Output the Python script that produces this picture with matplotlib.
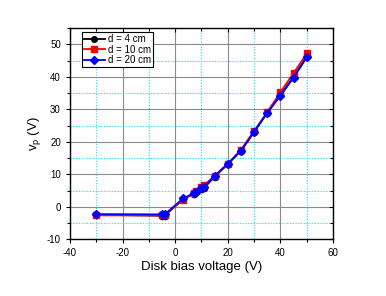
import matplotlib
matplotlib.use("Agg")
import matplotlib.pyplot as plt
from matplotlib.ticker import MultipleLocator

plt.rcParams['font.family'] = ['Liberation Sans', 'DejaVu Sans']
plt.rcParams['axes.unicode_minus'] = False

bias = [-30, -5, -4, 3, 7, 8, 10, 11, 15, 20, 25, 30, 35, 40, 45, 50]
vp_4cm = [-2.4, -2.7, -2.7, 2.4, 4.0, 4.5, 5.5, 5.9, 9.3, 13.2, 17.3, 23.2, 29.0, 34.5, 40.0, 46.3]
vp_10cm = [-2.6, -2.6, -2.4, 2.2, 4.3, 4.8, 6.0, 6.7, 9.6, 13.2, 17.6, 23.4, 29.2, 35.3, 41.2, 47.2]
vp_20cm = [-2.2, -2.3, -2.3, 2.6, 4.2, 4.7, 5.7, 6.2, 9.5, 13.3, 17.3, 23.0, 29.0, 34.2, 39.8, 46.0]
labels = ['d = 4 cm', 'd = 10 cm', 'd = 20 cm']

fig = plt.figure(figsize=(3.86, 2.96), dpi=100)
ax = fig.add_axes([0.181, 0.191, 0.682, 0.714])

ax.plot(bias, vp_4cm, color='black', marker='o', ms=4.5, lw=1.3, label=labels[0])
ax.plot(bias, vp_10cm, color='red', marker='s', ms=4.5, lw=1.3, label=labels[1])
ax.plot(bias, vp_20cm, color='blue', marker='D', ms=4.0, lw=1.3, label=labels[2])

ax.set_xlim(-40, 60)
ax.set_ylim(-10, 55)
ax.xaxis.set_major_locator(MultipleLocator(20))
ax.xaxis.set_minor_locator(MultipleLocator(10))
ax.yaxis.set_major_locator(MultipleLocator(10))
ax.yaxis.set_minor_locator(MultipleLocator(5))

ax.grid(which='major', color='#8a8a8a', lw=0.8, ls='-')
ax.grid(which='minor', color='#00e8ff', lw=0.8, ls=(0, (1, 1.5)))
ax.set_axisbelow(True)

ax.tick_params(which='both', direction='out', labelsize=7, width=0.8, colors='black')
ax.tick_params(which='major', length=3)
ax.tick_params(which='minor', length=2)
ax.tick_params(which='both', top=True, right=True)
for t in ax.yaxis.get_major_ticks() + ax.yaxis.get_minor_ticks():
    t.tick2line.set_marker(matplotlib.lines.TICKLEFT)
for t in ax.xaxis.get_major_ticks() + ax.xaxis.get_minor_ticks():
    t.tick2line.set_marker(matplotlib.lines.TICKDOWN)
for s in ax.spines.values():
    s.set_linewidth(1.0)

ax.set_xlabel('Disk bias voltage (V)', fontsize=9.5, labelpad=2)
ax.set_ylabel(r'v$_\mathregular{p}$ (V)', fontsize=9.5, labelpad=3)

leg = ax.legend(loc='upper left', bbox_to_anchor=(0.045, 0.98), fontsize=7,
                frameon=True, fancybox=False, edgecolor='black', framealpha=1,
                handlelength=2.2, handletextpad=0.3, borderpad=0.2, labelspacing=0.05,
                borderaxespad=0.0, markerscale=0.9)
leg.get_frame().set_linewidth(0.8)

fig.savefig('out.png', dpi=100)
